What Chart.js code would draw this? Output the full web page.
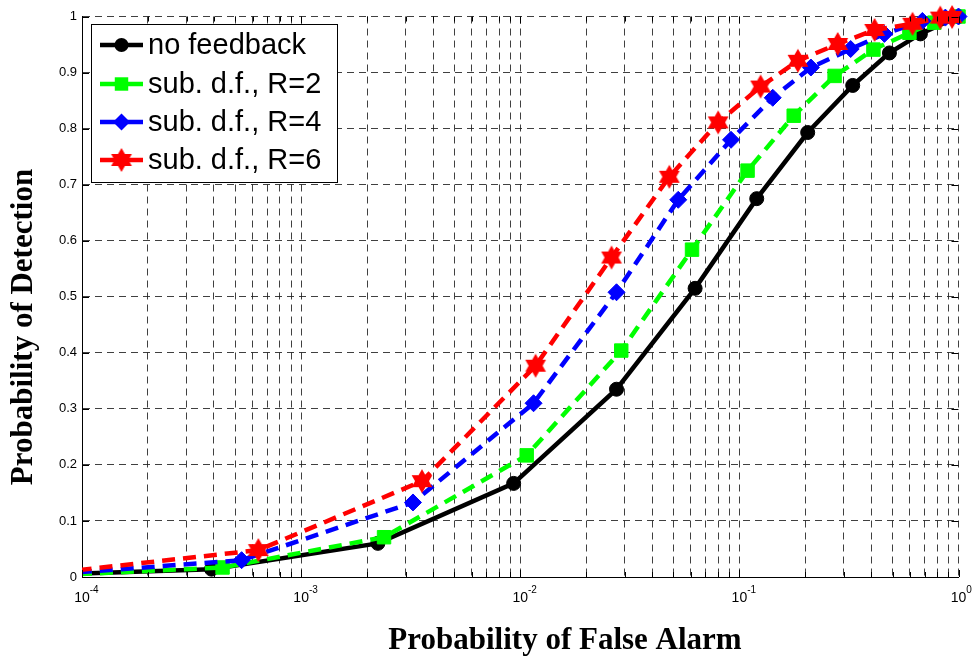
<!DOCTYPE html>
<html lang="en">
<head>
<meta charset="UTF-8">
<title>Probability of Detection vs Probability of False Alarm</title>
<script src="https://cdn.jsdelivr.net/npm/chart.js"></script>
<style>
  body { margin: 0; background: #fff; }
  #wrap { width: 975px; height: 660px; }
</style>
</head>
<body>
<div id="wrap"><canvas id="roc" width="975" height="660"></canvas></div>
<script>
// values (first point of each curve sits left of 1e-4 and is clipped)
const noFbPfa = [5e-5, 3.9e-4, 2.24e-3, 9.33e-3, 0.0275, 0.0628, 0.120, 0.205, 0.329, 0.484, 0.670, 1.0];
const noFbPd  = [0.002, 0.014, 0.060, 0.167, 0.335, 0.515, 0.675, 0.793, 0.877, 0.935, 0.969, 1.0];
const r2Pfa = [5e-5, 4.38e-4, 2.39e-3, 0.0107, 0.0289, 0.0608, 0.109, 0.177, 0.272, 0.409, 0.597, 0.776, 1.0];
const r2Pd  = [0, 0.017, 0.071, 0.217, 0.404, 0.584, 0.725, 0.823, 0.894, 0.941, 0.971, 0.989, 1.0];
const r4Pfa = [5e-5, 5.35e-4, 3.24e-3, 0.0115, 0.0275, 0.0526, 0.0916, 0.142, 0.212, 0.322, 0.459, 0.684, 0.871, 1.0];
const r4Pd  = [0, 0.030, 0.133, 0.310, 0.508, 0.673, 0.780, 0.855, 0.909, 0.942, 0.969, 0.992, 0.998, 1.0];
const r6Pfa = [5e-5, 6.38e-4, 3.56e-3, 0.01175, 0.0261, 0.0479, 0.080, 0.125, 0.185, 0.281, 0.414, 0.617, 0.826, 0.935];
const r6Pd  = [0, 0.048, 0.171, 0.377, 0.570, 0.714, 0.811, 0.875, 0.921, 0.951, 0.976, 0.987, 0.998, 0.999];

const seriesLabels = ['no feedback', 'sub. d.f., R=2', 'sub. d.f., R=4', 'sub. d.f., R=6'];
const yTickVals   = [0, 0.1, 0.2, 0.3, 0.4, 0.5, 0.6, 0.7, 0.8, 0.9, 1];
const yTickLabels = ['0', '0.1', '0.2', '0.3', '0.4', '0.5', '0.6', '0.7', '0.8', '0.9', '1'];
const xDecades    = [1e-4, 1e-3, 1e-2, 1e-1, 1];
const xDecadeExps = ['-4', '-3', '-2', '-1', '0'];
const xTitle = 'Probability of False Alarm';
const yTitle = 'Probability of Detection';

// log grid: 1..9 times each decade
const xGridVals = [];
xDecades.forEach((d, i) => {
  if (i === xDecades.length - 1) { xGridVals.push(d); return; }
  for (let m = 1; m <= 9; m++) xGridVals.push(m * d);
});

function hexagram(r, color) {
  const c = document.createElement('canvas');
  const s = Math.ceil(2 * r + 2);
  c.width = s; c.height = s;
  const g = c.getContext('2d');
  g.translate(s / 2, s / 2);
  g.beginPath();
  for (let k = 0; k < 12; k++) {
    const a = -Math.PI / 2 + k * Math.PI / 6;
    const rr = k % 2 === 0 ? r : r / Math.sqrt(3);
    const px = Math.cos(a) * rr, py = Math.sin(a) * rr;
    if (k === 0) g.moveTo(px, py); else g.lineTo(px, py);
  }
  g.closePath();
  g.fillStyle = color;
  g.fill();
  return c;
}
const starImg = hexagram(12, '#ff0000');

function pts(xs, ys) { return xs.map((x, i) => ({ x: x, y: ys[i] })); }

const dash = [13, 8];
const lineW = 4.5;

const frame = {
  id: 'frame',
  afterDatasetsDraw(chart) {
    const ctx = chart.ctx, a = chart.chartArea;
    const xs = chart.scales.x, ys = chart.scales.y;
    ctx.save();
    ctx.strokeStyle = '#000';
    ctx.lineWidth = 1;
    ctx.beginPath();
    // inward ticks on all four sides
    xGridVals.forEach(v => {
      const px = Math.round(xs.getPixelForValue(v)) + 0.5;
      const len = xDecades.includes(v) ? 7 : 5;
      ctx.moveTo(px, a.bottom); ctx.lineTo(px, a.bottom - len);
      ctx.moveTo(px, a.top); ctx.lineTo(px, a.top + len);
    });
    yTickVals.forEach(v => {
      const py = Math.round(ys.getPixelForValue(v)) + 0.5;
      ctx.moveTo(a.left, py); ctx.lineTo(a.left + 7, py);
      ctx.moveTo(a.right, py); ctx.lineTo(a.right - 7, py);
    });
    ctx.stroke();
    ctx.restore();
  },
  afterDraw(chart) {
    const ctx = chart.ctx, a = chart.chartArea;
    const xs = chart.scales.x, ys = chart.scales.y;
    ctx.save();
    ctx.fillStyle = '#000';
    // y tick labels
    ctx.font = '13px "Liberation Sans", Arial, sans-serif';
    ctx.textAlign = 'right';
    ctx.textBaseline = 'middle';
    yTickVals.forEach((v, i) => {
      ctx.fillText(yTickLabels[i], a.left - 5, ys.getPixelForValue(v));
    });
    // x tick labels: 10 with superscript exponent
    xDecades.forEach((v, i) => {
      const px = xs.getPixelForValue(v);
      ctx.font = '14px "Liberation Sans", Arial, sans-serif';
      ctx.textAlign = 'center';
      ctx.textBaseline = 'alphabetic';
      const w = ctx.measureText('10').width;
      ctx.fillText('10', px, a.bottom + 25);
      ctx.font = '10px "Liberation Sans", Arial, sans-serif';
      ctx.textAlign = 'left';
      ctx.fillText(xDecadeExps[i], px + w / 2, a.bottom + 16);
    });
    // axis titles
    ctx.font = 'bold 31px "Liberation Serif", "Times New Roman", serif';
    ctx.textAlign = 'center';
    ctx.textBaseline = 'middle';
    ctx.fillText(xTitle, 565, 641);
    ctx.save();
    ctx.translate(24, 327);
    ctx.rotate(-Math.PI / 2);
    ctx.fillText(yTitle, 0, 0);
    ctx.restore();

    // legend box
    const bx = 91.5, by = 24.5, bw = 246, bh = 158;
    ctx.fillStyle = '#fff';
    ctx.fillRect(bx, by, bw, bh);
    ctx.strokeStyle = '#000';
    ctx.lineWidth = 1;
    ctx.strokeRect(bx, by, bw, bh);
    const rowY = [45, 84, 122, 160];
    chart.data.datasets.forEach((ds, i) => {
      const y = rowY[i];
      ctx.strokeStyle = ds.borderColor;
      ctx.fillStyle = ds.borderColor;
      ctx.lineWidth = lineW;
      ctx.setLineDash([]);
      ctx.beginPath();
      ctx.moveTo(100, y); ctx.lineTo(143, y);
      ctx.stroke();
      const mx = 121.5;
      ctx.beginPath();
      if (ds.pointStyle === 'circle') {
        ctx.arc(mx, y, ds.pointRadius, 0, Math.PI * 2);
        ctx.fill();
      } else if (ds.pointStyle === 'rect') {
        const h = ds.pointRadius * Math.SQRT1_2;
        ctx.fillRect(mx - h, y - h, 2 * h, 2 * h);
      } else if (ds.pointStyle === 'rectRot') {
        const r = ds.pointRadius;
        ctx.moveTo(mx - r, y); ctx.lineTo(mx, y - r); ctx.lineTo(mx + r, y); ctx.lineTo(mx, y + r);
        ctx.closePath();
        ctx.fill();
      } else {
        ctx.drawImage(ds.pointStyle, mx - ds.pointStyle.width / 2, y - ds.pointStyle.height / 2);
      }
      ctx.fillStyle = '#000';
      ctx.font = '29px "Liberation Sans", Arial, sans-serif';
      ctx.textAlign = 'left';
      ctx.textBaseline = 'middle';
      ctx.fillText(ds.label, 148, y + 1);
    });
    ctx.restore();
  }
};

const gridStyle = { color: 'rgba(30,30,30,0.85)', lineWidth: 1, drawTicks: false };

new Chart(document.getElementById('roc'), {
  type: 'line',
  data: {
    datasets: [
      { label: seriesLabels[0], data: pts(noFbPfa, noFbPd), borderColor: '#000000', backgroundColor: '#000000',
        borderWidth: lineW, pointStyle: 'circle', pointRadius: 7, pointBorderWidth: 1, order: 4 },
      { label: seriesLabels[1], data: pts(r2Pfa, r2Pd), borderColor: '#00ff00', backgroundColor: '#00ff00',
        borderWidth: lineW, borderDash: dash, pointStyle: 'rect', pointRadius: 9.5, pointBorderWidth: 1, order: 3 },
      { label: seriesLabels[2], data: pts(r4Pfa, r4Pd), borderColor: '#0000ff', backgroundColor: '#0000ff',
        borderWidth: lineW, borderDash: dash, pointStyle: 'rectRot', pointRadius: 8.5, pointBorderWidth: 1, order: 2 },
      { label: seriesLabels[3], data: pts(r6Pfa, r6Pd), borderColor: '#ff0000', backgroundColor: '#ff0000',
        borderWidth: lineW, borderDash: dash, pointStyle: starImg, pointRadius: 12, order: 1 }
    ]
  },
  options: {
    responsive: false,
    animation: false,
    clip: { left: 0, top: false, right: false, bottom: false },
    layout: { padding: { left: 82, top: 16, right: 13, bottom: 83 } },
    elements: { line: { tension: 0, fill: false } },
    plugins: { legend: { display: false }, tooltip: { enabled: false } },
    scales: {
      x: {
        type: 'logarithmic',
        min: 1e-4,
        max: 1,
        afterBuildTicks: s => { s.ticks = xGridVals.map(v => ({ value: v })); },
        ticks: { display: false },
        grid: gridStyle,
        border: { display: true, color: '#000', width: 1, dash: [7, 5] }
      },
      y: {
        type: 'linear',
        min: 0,
        max: 1,
        afterBuildTicks: s => { s.ticks = yTickVals.map(v => ({ value: v })); },
        ticks: { display: false },
        grid: gridStyle,
        border: { display: true, color: '#000', width: 1, dash: [7, 5] }
      }
    }
  },
  plugins: [frame]
});
</script>
</body>
</html>
